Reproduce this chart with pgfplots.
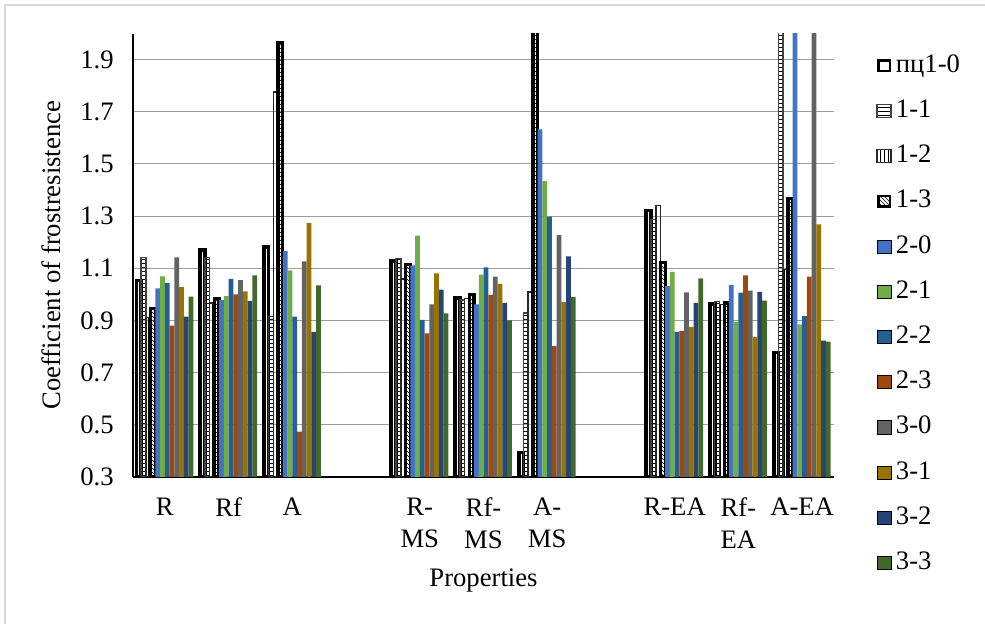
\documentclass[border=0pt]{standalone}
\usepackage{fontspec}
\setmainfont{Liberation Serif}
\usepackage{pgfplots}
\pgfplotsset{compat=1.18}
\usepackage{pgfplotstable}
\usetikzlibrary{patterns}

\definecolor{cA}{HTML}{4472C4}
\definecolor{cB}{HTML}{70AD47}
\definecolor{cC}{HTML}{255E91}
\definecolor{cD}{HTML}{9E480E}
\definecolor{cE}{HTML}{636363}
\definecolor{cF}{HTML}{997300}
\definecolor{cG}{HTML}{264478}
\definecolor{cH}{HTML}{43682B}
\definecolor{frame}{HTML}{D9D9D9}

% x: 0-2 plain, 4-6 MS, 8-10 EA; 2.5 = off the top of the axis
\pgfplotstableread{
x  p10   p11   p12   p13   p20   p21   p22   p23   p30   p31   p32   p33
0  1.053 1.142 0.912 0.947 1.023 1.069 1.044 0.880 1.142 1.028 0.915 0.991
1  1.170 1.142 0.968 0.984 0.978 0.993 1.059 1.000 1.055 1.012 0.975 1.073
2  1.183 0.915 1.776 1.965 1.166 1.092 0.915 0.474 1.127 1.273 0.856 1.035
4  1.129 1.138 1.058 1.114 1.111 1.225 0.902 0.851 0.962 1.081 1.018 0.927
5  0.985 0.978 0.984 0.999 0.962 1.076 1.104 0.998 1.068 1.040 0.967 0.900
6  0.394 0.929 1.010 2.500 1.633 1.434 1.298 0.802 1.227 0.970 1.146 0.990
8  1.322 1.287 1.341 1.121 1.032 1.086 0.856 0.860 1.008 0.875 0.967 1.061
9  0.963 0.972 0.961 0.967 1.036 0.896 1.007 1.073 1.014 0.837 1.010 0.976
10 0.777 2.500 1.096 1.369 2.500 0.885 0.917 1.068 2.500 1.268 0.823 0.819
}\frost

\pgfplotsset{
  sq/.style={legend image code/.code={\draw[##1] (0pt,-4.9pt) rectangle (10.5pt,4.9pt);}},
  sqthick/.style={legend image code/.code={\draw[##1, line width=1.8pt] (0.9pt,-4pt) rectangle (9.6pt,4pt);}},
  solid bar/.style={fill=#1, draw=none, sq},
}

\begin{document}
\begin{tikzpicture}[font=\fontsize{20}{24}\selectfont]
\useasboundingbox (0,0) rectangle (738.75pt,468pt);
\draw[frame, line width=1.2pt] (3.75pt,0) -- (3.75pt,464.25pt) -- (738.75pt,464.25pt);
\begin{axis}[
  at={(99.75pt,110.25pt)}, anchor=south west,
  scale only axis, width=525.75pt, height=332.6pt,
  ybar=0pt, bar width=3.56pt,
  xmin=-0.5, xmax=10.5, ymin=0.3, ymax=2.0,
  xtick={0,1,2,4,5,6,8,9,10},
  xticklabels={R,Rf,A,{R-\\MS},{Rf-\\MS},{A-\\MS},R-EA,{Rf-\\EA},A-EA},
  xticklabel style={align=center, yshift=-12pt},
  ytick={0.3,0.5,0.7,0.9,1.1,1.3,1.5,1.7,1.9},
  yticklabel style={/pgf/number format/.cd, fixed, fixed zerofill, precision=1, /tikz/.cd, xshift=-11pt},
  /pgf/number format/assume math mode=true,
  ymajorgrids, grid style={gray!75, line width=0.8pt},
  axis x line*=bottom, axis y line*=left,
  axis line style={line width=1.6pt, black},
  major tick length=0pt,
  xlabel={Properties}, ylabel={Coefficient of frostresistence},
  xlabel style={yshift=-8pt},
  ylabel style={yshift=8pt},
  legend style={draw=none, fill=none, at={(1.06,0.367)}, anchor=west,
    inner sep=0pt, row sep=14.9pt, column sep=3pt,
    nodes={inner sep=0pt, text height=14.5pt, text depth=4.5pt}},
  legend cell align=left,
]
\addplot[fill=white, draw=black, line width=2.8pt, sqthick] table[x=x,y=p10]{\frost};
\addplot[pattern=horizontal lines, pattern color=black, draw=black!75, line width=1.2pt, sq] table[x=x,y=p11]{\frost};
\addplot[pattern=vertical lines, pattern color=black, draw=black!85, line width=1.2pt, sq] table[x=x,y=p12]{\frost};
\addplot[pattern=north west lines, pattern color=black, draw=black, line width=2.4pt, sqthick] table[x=x,y=p13]{\frost};
\addplot[solid bar=cA] table[x=x,y=p20]{\frost};
\addplot[solid bar=cB] table[x=x,y=p21]{\frost};
\addplot[solid bar=cC] table[x=x,y=p22]{\frost};
\addplot[solid bar=cD] table[x=x,y=p23]{\frost};
\addplot[solid bar=cE] table[x=x,y=p30]{\frost};
\addplot[solid bar=cF] table[x=x,y=p31]{\frost};
\addplot[solid bar=cG] table[x=x,y=p32]{\frost};
\addplot[solid bar=cH] table[x=x,y=p33]{\frost};
\legend{пц1-0,1-1,1-2,1-3,2-0,2-1,2-2,2-3,3-0,3-1,3-2,3-3}
\end{axis}
\end{tikzpicture}
\end{document}
